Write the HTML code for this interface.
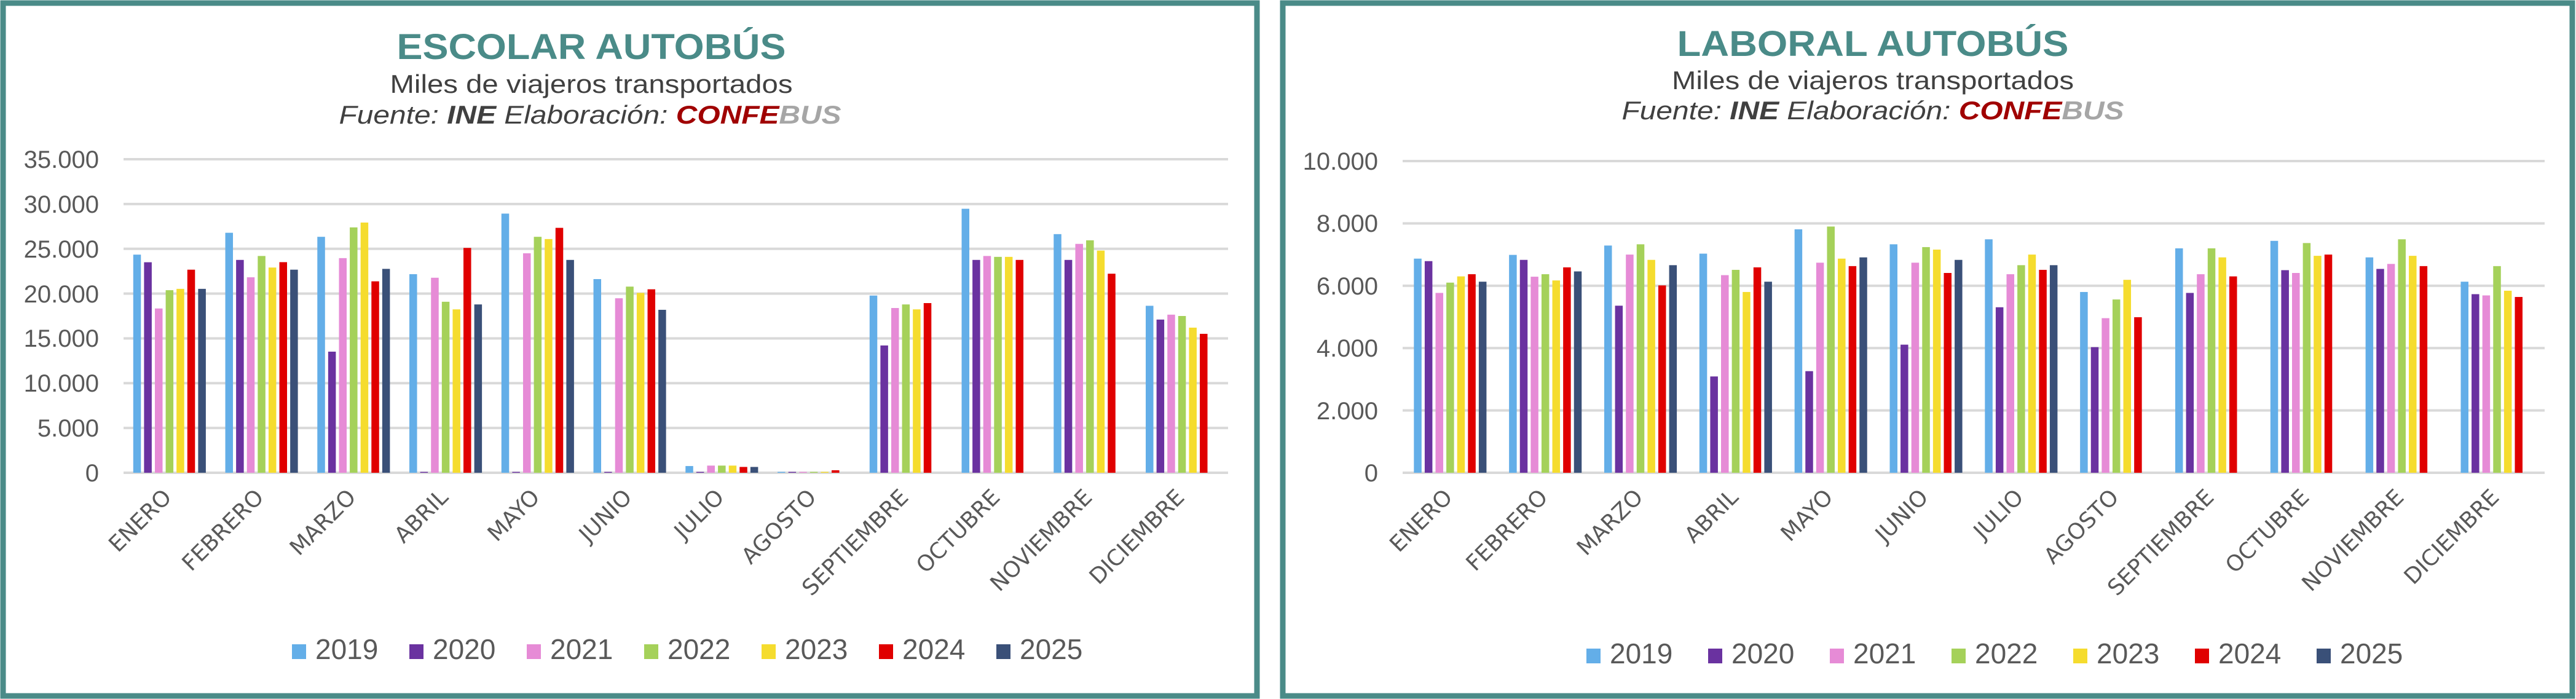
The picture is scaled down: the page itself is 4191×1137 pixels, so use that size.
<!DOCTYPE html>
<html><head><meta charset="utf-8"><style>
html,body{margin:0;padding:0;background:#fff;}
svg{display:block;font-family:"Liberation Sans",sans-serif;}
.yl{font-size:40px;fill:#595959;text-anchor:end;}
.xl{font-size:36px;fill:#595959;text-anchor:end;font-family:"DejaVu Sans",sans-serif;}
.lg{font-size:46px;fill:#595959;}
.t{font-size:58px;font-weight:bold;fill:#4a8b88;text-anchor:middle;}
.s{font-size:42px;fill:#404040;text-anchor:middle;}
.f{font-size:42px;fill:#404040;font-style:italic;text-anchor:middle;}
</style></head><body>
<svg id="c" width="4191" height="1137" viewBox="0 0 4191 1137" xmlns="http://www.w3.org/2000/svg">
<rect x="0" y="0" width="4191" height="1137" fill="#fff"/>
<rect x="5" y="5" width="2040" height="1127" fill="none" stroke="#4a8b88" stroke-width="9"/>
<rect x="2087" y="5" width="2098" height="1127" fill="none" stroke="#4a8b88" stroke-width="9"/>
<g id="grid"></g>
<g id="bars"></g>
<text class="t" x="962" y="96" textLength="633" lengthAdjust="spacingAndGlyphs">ESCOLAR AUTOBÚS</text>
<text class="s" x="962" y="151" textLength="655" lengthAdjust="spacingAndGlyphs">Miles de viajeros transportados</text>
<text class="f" x="960" y="201" textLength="817" lengthAdjust="spacingAndGlyphs">Fuente: <tspan font-weight="bold">INE</tspan>  Elaboración: <tspan font-weight="bold" fill="#a00000">CONFE</tspan><tspan font-weight="bold" fill="#a6a6a6">BUS</tspan></text>
<text class="yl" x="161" y="273">35.000</text>
<text class="yl" x="161" y="346">30.000</text>
<text class="yl" x="161" y="419">25.000</text>
<text class="yl" x="161" y="492">20.000</text>
<text class="yl" x="161" y="564">15.000</text>
<text class="yl" x="161" y="637">10.000</text>
<text class="yl" x="161" y="710">5.000</text>
<text class="yl" x="161" y="783">0</text>
<g class="xl">
<text transform="translate(281,811) rotate(-45)">ENERO</text>
<text transform="translate(431,811) rotate(-45)">FEBRERO</text>
<text transform="translate(581,811) rotate(-45)">MARZO</text>
<text transform="translate(731,811) rotate(-45)">ABRIL</text>
<text transform="translate(880,811) rotate(-45)">MAYO</text>
<text transform="translate(1030,811) rotate(-45)">JUNIO</text>
<text transform="translate(1180,811) rotate(-45)">JULIO</text>
<text transform="translate(1330,811) rotate(-45)">AGOSTO</text>
<text transform="translate(1480,811) rotate(-45)">SEPTIEMBRE</text>
<text transform="translate(1629,811) rotate(-45)">OCTUBRE</text>
<text transform="translate(1779,811) rotate(-45)">NOVIEMBRE</text>
<text transform="translate(1929,811) rotate(-45)">DICIEMBRE</text>
</g>
<g class="lg">
<text x="513" y="1072">2019</text><text x="704" y="1072">2020</text><text x="895" y="1072">2021</text><text x="1086" y="1072">2022</text><text x="1277" y="1072">2023</text><text x="1468" y="1072">2024</text><text x="1659" y="1072">2025</text>
</g>
<text class="t" x="3047" y="91" textLength="637" lengthAdjust="spacingAndGlyphs">LABORAL AUTOBÚS</text>
<text class="s" x="3047" y="145" textLength="654" lengthAdjust="spacingAndGlyphs">Miles de viajeros transportados</text>
<text class="f" x="3047" y="194" textLength="817" lengthAdjust="spacingAndGlyphs">Fuente: <tspan font-weight="bold">INE</tspan>  Elaboración: <tspan font-weight="bold" fill="#a00000">CONFE</tspan><tspan font-weight="bold" fill="#a6a6a6">BUS</tspan></text>
<text class="yl" x="2242" y="276">10.000</text>
<text class="yl" x="2242" y="377">8.000</text>
<text class="yl" x="2242" y="479">6.000</text>
<text class="yl" x="2242" y="580">4.000</text>
<text class="yl" x="2242" y="682">2.000</text>
<text class="yl" x="2242" y="783">0</text>
<g class="xl">
<text transform="translate(2365,811) rotate(-45)">ENERO</text>
<text transform="translate(2520,811) rotate(-45)">FEBRERO</text>
<text transform="translate(2675,811) rotate(-45)">MARZO</text>
<text transform="translate(2830,811) rotate(-45)">ABRIL</text>
<text transform="translate(2984,811) rotate(-45)">MAYO</text>
<text transform="translate(3139,811) rotate(-45)">JUNIO</text>
<text transform="translate(3294,811) rotate(-45)">JULIO</text>
<text transform="translate(3449,811) rotate(-45)">AGOSTO</text>
<text transform="translate(3604,811) rotate(-45)">SEPTIEMBRE</text>
<text transform="translate(3759,811) rotate(-45)">OCTUBRE</text>
<text transform="translate(3913,811) rotate(-45)">NOVIEMBRE</text>
<text transform="translate(4068,811) rotate(-45)">DICIEMBRE</text>
</g>
<g class="lg">
<text x="2619" y="1079">2019</text><text x="2817" y="1079">2020</text><text x="3015" y="1079">2021</text><text x="3213" y="1079">2022</text><text x="3411" y="1079">2023</text><text x="3609" y="1079">2024</text><text x="3807" y="1079">2025</text>
</g>
</svg>
<script>
var C=["#63aee8","#6a32a0","#e68bd6","#a5d15a","#f5dc2e","#e00000","#3a5078"];
var NS="http://www.w3.org/2000/svg";
function R(p,x,y,w,h,f){var r=document.createElementNS(NS,"rect");r.setAttribute("x",x);r.setAttribute("y",y);r.setAttribute("width",w);r.setAttribute("height",h);r.setAttribute("fill",f);document.getElementById(p).appendChild(r);}
var L=[[24350,23500,18340,20380,20530,22670,20530],[26790,23760,21820,24200,22910,23510,22670],[26340,13520,23960,27390,27930,21370,22760],[22170,100,21770,19090,18240,25100,18790],[28930,100,24500,26340,26090,27340,23760],[21620,100,19480,20780,20080,20480,18190],[750,100,800,800,800,650,650],[100,100,100,100,100,280,0],[19780,14210,18390,18790,18240,18940,0],[29470,23760,24200,24100,24100,23760,0],[26640,23760,25550,25950,24800,22220,0],[18640,17100,17650,17500,16200,15510,0]];
var Rr=[[6870,6790,5770,6100,6300,6370,6130],[6990,6830,6290,6370,6170,6590,6460],[7290,5360,7000,7330,6830,6010,6660],[7030,3090,6340,6510,5800,6590,6130],[7810,3260,6740,7900,6870,6630,6910],[7330,4110,6740,7240,7160,6410,6830],[7490,5310,6370,6660,7000,6510,6660],[5800,4030,4960,5560,6190,4990,0],[7200,5770,6370,7200,6910,6300,0],[7440,6500,6410,7370,6960,7000,0],[6910,6540,6700,7490,6960,6630,0],[6130,5730,5690,6630,5840,5640,0]];
function chart(x0,x1,y0,yT,max,step,data,lx,lp,ly){
 for(var v=0;v<=max;v+=step){var y=y0-(v/max)*(y0-yT);R("grid",x0,y-2,x1-x0,4,"#d9d9d9");}
 var cw=(x1-x0)/12,p=17.6,bw=12.5;
 data.forEach(function(g,i){var cx=x0+cw*(i+.5),s=cx-3.5*p;
  g.forEach(function(v,j){if(!v)return;var h=v/max*(y0-yT);R("bars",s+j*p+2.5,y0-h,bw,h,C[j]);});});
 for(var j=0;j<7;j++)R("bars",lx+j*lp,ly,23,24,C[j]);
}
chart(201,1998,769,259,35000,5000,L,475,191,1048);
chart(2282,4140,769,262,10000,2000,Rr,2581,198,1055);
</script>
</body></html>
